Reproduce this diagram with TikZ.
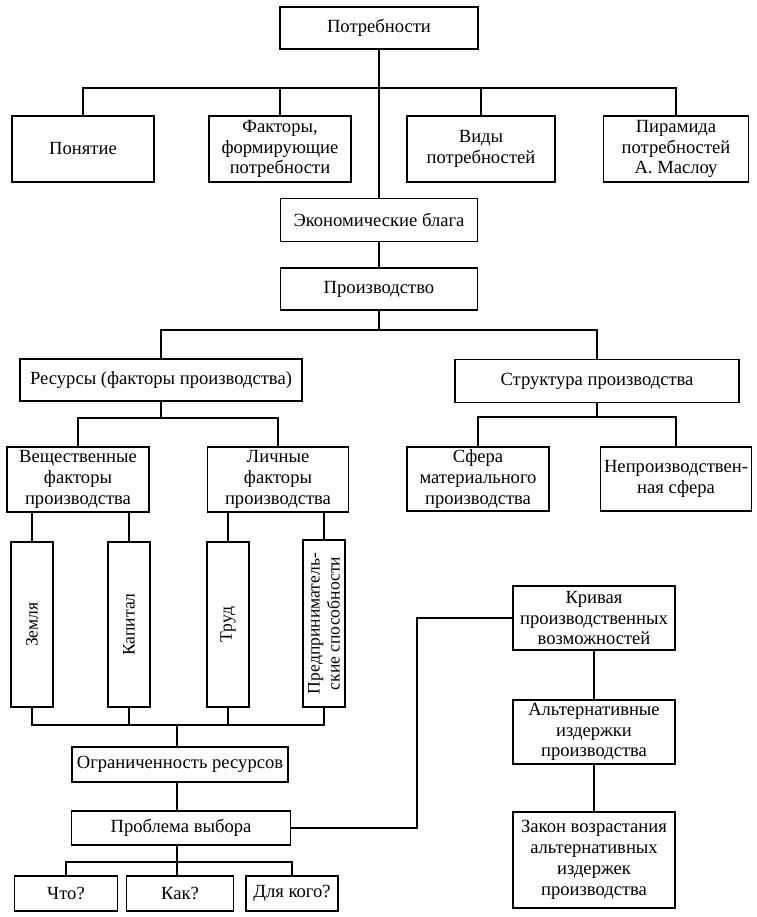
\documentclass[tikz,border=0pt]{standalone}
\usepackage{fontspec}
\setmainfont{Liberation Serif}
\begin{document}
\begin{tikzpicture}[x=1pt,y=1pt,
  box/.style={draw, line width=1.5pt, rectangle, align=center, inner sep=0pt,
    font=\fontsize{18.6}{20.8}\selectfont},
  vbox/.style={box, rotate=90, font=\fontsize{17.6}{20}\selectfont},
  conn/.style={line width=1.5pt}]
\useasboundingbox (0,0) rectangle (756,-917);
% top level
\node[box, minimum width=198, minimum height=42] (potr) at (379,-28) {Потребности};
\node[box, minimum width=142, minimum height=66] (pon) at (83,-149) {Понятие};
\node[box, minimum width=142, minimum height=66] (fakt) at (280,-149) {Факторы,\\формирующие\\потребности};
\node[box, minimum width=148, minimum height=66] (vid) at (481,-149) {Виды\\потребностей};
\node[box, minimum width=145, minimum height=66] (pir) at (676,-149) {Пирамида\\потребностей\\А.~Маслоу};
\node[box, minimum width=197, minimum height=43] (econ) at (379,-220) {Экономические блага};
\node[box, minimum width=197, minimum height=42] (proizv) at (379,-289) {Производство};
% resources / structure
\node[box, minimum width=282, minimum height=42] (res) at (161,-380) {Ресурсы (факторы производства)};
\node[box, minimum width=284, minimum height=43] (str) at (597,-381) {Структура производства};
\node[box, minimum width=142, minimum height=65] (vesh) at (78,-479.5) {Вещественные\\факторы\\производства};
\node[box, minimum width=141, minimum height=65] (lich) at (278,-479.5) {Личные\\факторы\\производства};
\node[box, minimum width=142, minimum height=64] (sfera) at (478,-479) {Сфера\\материального\\производства};
\node[box, minimum width=151, minimum height=64] (nepr) at (676,-479) {Непроизводствен-\\ная сфера};
% vertical boxes
\node[vbox, minimum width=165, minimum height=42] (zem) at (32,-624.5) {Земля};
\node[vbox, minimum width=165, minimum height=42] (kap) at (129,-624.5) {Капитал};
\node[vbox, minimum width=165, minimum height=42] (trud) at (228,-624.5) {Труд};
\node[vbox, minimum width=167, minimum height=42] (pred) at (324,-623.5) {Предприниматель-\\ские способности};
% bottom left
\node[box, minimum width=216, minimum height=35] (ogr) at (180,-764.5) {Ограниченность ресурсов};
\node[box, minimum width=219, minimum height=34] (probl) at (181,-828) {Проблема выбора};
\node[box, minimum width=103, minimum height=35] (chto) at (66,-893.5) {Что?};
\node[box, minimum width=107, minimum height=35] (kak) at (180,-893.5) {Как?};
\node[box, minimum width=92, minimum height=35] (dlya) at (292,-893.5) {Для кого?};
% right chain
\node[box, minimum width=162, minimum height=64] (kriv) at (594,-618) {Кривая\\производственных\\возможностей};
\node[box, minimum width=162, minimum height=64] (alt) at (594,-732) {Альтернативные\\издержки\\производства};
\node[box, minimum width=162, minimum height=96] (zakon) at (594,-860) {Закон возрастания\\альтернативных\\издержек\\производства};
% bus coordinates
\coordinate (b1) at (379,-88);
\coordinate (b2) at (379,-330);
\coordinate (b3) at (161,-418);
\coordinate (b4) at (597,-417);
\coordinate (b5) at (177,-725);
\coordinate (b6) at (177,-862);
\coordinate (cx) at (417,0);
% connectors
\draw[conn] (potr.south) -- (econ.north);
\draw[conn] (pon.north) -- (pon.north |- b1) -- (pir.north |- b1) -- (pir.north);
\draw[conn] (fakt.north) -- (fakt.north |- b1);
\draw[conn] (vid.north) -- (vid.north |- b1);
\draw[conn] (econ.south) -- (proizv.north);
\draw[conn] (proizv.south) -- (b2);
\draw[conn] (res.north) -- (res.north |- b2) -- (str.north |- b2) -- (str.north);
\draw[conn] (res.south) -- (b3);
\draw[conn] (vesh.north) -- (vesh.north |- b3) -- (lich.north |- b3) -- (lich.north);
\draw[conn] (str.south) -- (b4);
\draw[conn] (sfera.north) -- (sfera.north |- b4) -- (nepr.north |- b4) -- (nepr.north);
\draw[conn] (zem.east) -- (zem.east |- vesh.south);
\draw[conn] (kap.east) -- (kap.east |- vesh.south);
\draw[conn] (trud.east) -- (trud.east |- lich.south);
\draw[conn] (pred.east) -- (pred.east |- lich.south);
\draw[conn] (zem.west) -- (zem.west |- b5) -- (pred.west |- b5) -- (pred.west);
\draw[conn] (kap.west) -- (kap.west |- b5);
\draw[conn] (trud.west) -- (trud.west |- b5);
\draw[conn] (b5) -- (b5 |- ogr.north);
\draw[conn] (b5 |- ogr.south) -- (b5 |- probl.north);
\draw[conn] (b5 |- probl.south) -- (b6);
\draw[conn] (chto.north) -- (chto.north |- b6) -- (dlya.north |- b6) -- (dlya.north);
\draw[conn] (b6) -- (b6 |- kak.north);
\draw[conn] (probl.east) -- (probl.east -| cx) -- (cx |- kriv.west) -- (kriv.west);
\draw[conn] (kriv.south) -- (alt.north);
\draw[conn] (alt.south) -- (zakon.north);
\end{tikzpicture}
\end{document}
